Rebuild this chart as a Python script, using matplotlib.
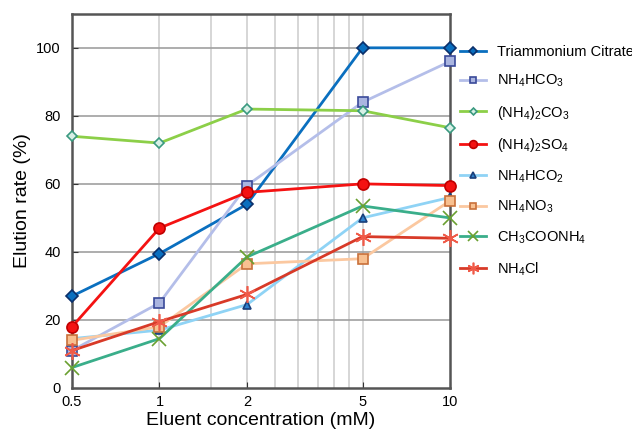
import matplotlib
matplotlib.use("Agg")
import matplotlib.pyplot as plt
import numpy as np

plt.rcParams['font.family'] = ['Liberation Sans', 'DejaVu Sans']
plt.rcParams['mathtext.default'] = 'regular'

# eluent concentration (mM)
conc = [0.5, 1, 2, 5, 10]

# elution rate (%) per eluent
triammonium_citrate = [27, 39.5, 54, 100, 100]
nh4hco3 = [11, 25, 59.5, 84, 96]
nh42co3 = [74, 72, 82, 81.5, 76.5]
nh42so4 = [18, 47, 57.5, 60, 59.5]
nh4hco2 = [14.5, 17, 24.5, 50, 56]
nh4no3 = [14, 18, 36.5, 38, 55]
ch3coonh4 = [6, 14.5, 38.5, 53.5, 50]
nh4cl = [11, 19.5, 27.5, 44.5, 44]

labels = ['Triammonium Citrate', r'NH$_4$HCO$_3$', r'(NH$_4$)$_2$CO$_3$',
          r'(NH$_4$)$_2$SO$_4$', r'NH$_4$HCO$_2$', r'NH$_4$NO$_3$',
          r'CH$_3$COONH$_4$', r'NH$_4$Cl']

xtick_vals = [0.5, 1, 2, 5, 10]
xtick_labels = ['0.5', '1', '2', '5', '10']

fig = plt.figure(figsize=(6.32, 4.32), dpi=100)
ax = fig.add_axes([0.114, 0.102, 0.598, 0.866])
ax.set_xscale('log')

# grid: light verticals every 0.5 up to 5, darker horizontals every 20
for v in np.arange(0.5, 5.01, 0.5):
    ax.axvline(v, color='#cfcfcf', lw=1.2, zorder=0)
for h in range(20, 101, 20):
    ax.axhline(h, color='#a0a0a0', lw=1.2, zorder=0)

# (line colour, marker, marker face, marker edge, marker size)
styles = [
    ('#0a6fbf', 'D', '#0a6fbf', '#0b2f6a', 6),
    ('#b4bee9', 's', '#aab5e0', '#3a4a9a', 7),
    ('#8ccf48', 'D', '#d8f0e6', '#3a9a80', 5),
    ('#f41212', 'o', '#f41212', '#c00000', 8),
    ('#8fd3f5', '^', '#2e82ce', '#1a3f7a', 6),
    ('#fbc8a0', 's', '#f8c090', '#c8703a', 7),
    ('#3aae8a', 'x', '#6aa030', '#6aa030', 10),
    ('#d83a28', (6, 2, 0), '#f05a48', '#f05a48', 12),
]
series = [triammonium_citrate, nh4hco3, nh42co3, nh42so4,
          nh4hco2, nh4no3, ch3coonh4, nh4cl]

for vals, lab, (lc, mk, mf, me, ms) in zip(series, labels, styles):
    ax.plot(conc, vals, color=lc, lw=2, marker=mk, markersize=ms,
            markerfacecolor=mf, markeredgecolor=me, markeredgewidth=1.2,
            label=lab, clip_on=False, zorder=3)

ax.set_xlim(0.5, 10)
ax.set_ylim(0, 110)
ax.set_xticks(xtick_vals)
ax.set_xticklabels(xtick_labels)
ax.xaxis.set_minor_locator(matplotlib.ticker.NullLocator())
ax.set_yticks(range(0, 101, 20))
ax.tick_params(direction='in', labelsize=10.5, length=4, color='#333333')
ax.tick_params(axis='x', pad=5)
ax.tick_params(axis='y', pad=8)

for s in ax.spines.values():
    s.set_color('#555555')
    s.set_linewidth(1.8)

ax.set_xlabel('Eluent concentration (mM)', fontsize=14, labelpad=2)
ax.set_ylabel('Elution rate (%)', fontsize=14, labelpad=4)

ax.legend(loc='upper left', bbox_to_anchor=(1.0, 0.945), frameon=False,
          fontsize=10.5, handlelength=1.8, handletextpad=0.7,
          labelspacing=0.98, markerscale=0.7, borderaxespad=0.3)

fig.savefig('out.png', dpi=100)
